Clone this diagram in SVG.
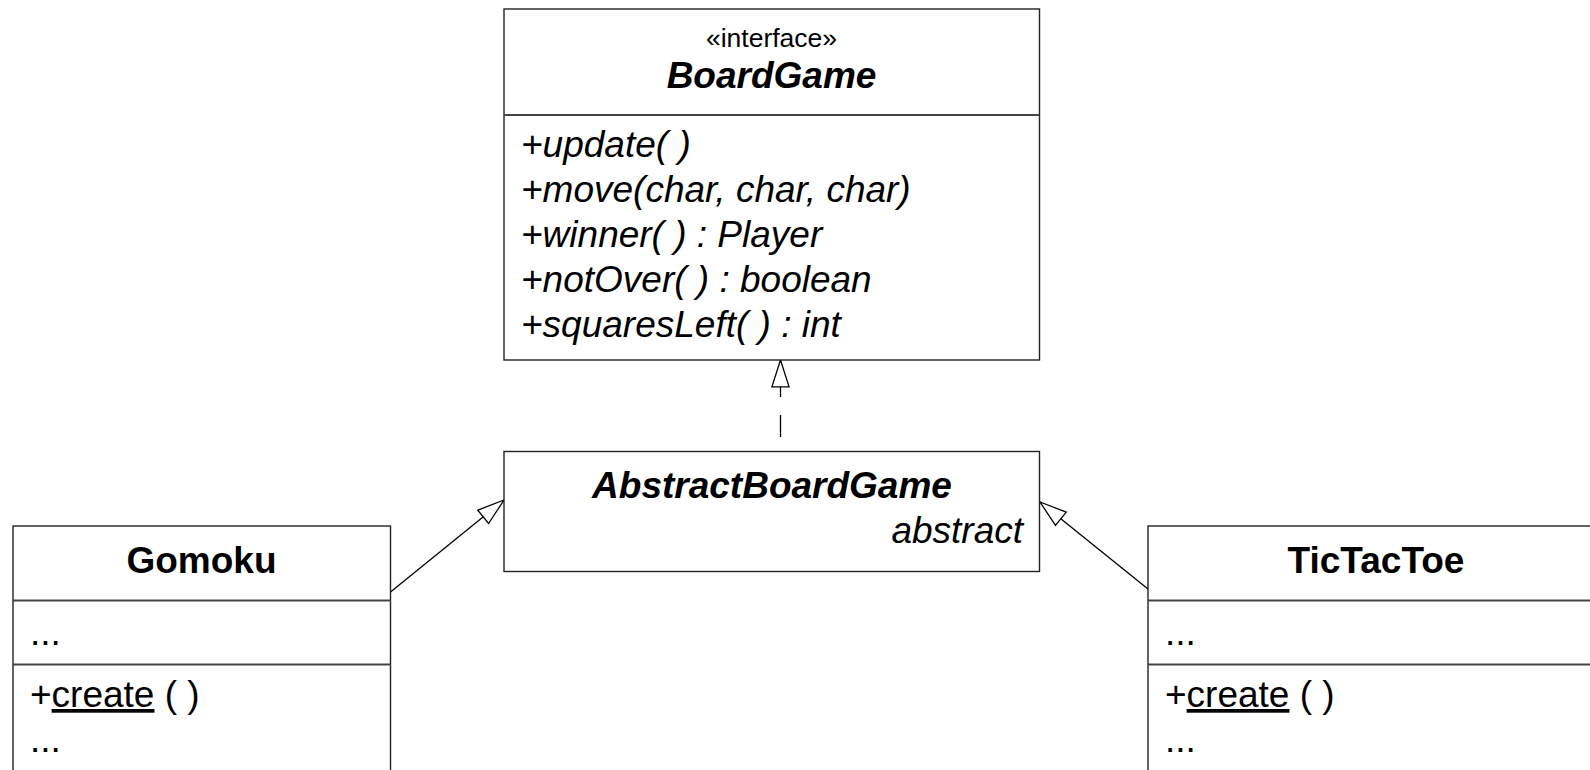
<svg xmlns="http://www.w3.org/2000/svg" width="1590" height="770" viewBox="0 0 1590 770">
<defs>
<style>
text{font-family:"Liberation Sans",Arial,Helvetica,sans-serif;fill:#000;font-size:37px}
.box{fill:#fff;stroke:#222;stroke-width:1.4}
.div{stroke:#444;stroke-width:1.8}
.b{font-weight:bold}
.i{font-style:italic}
.st{font-size:26.5px}
.m{text-anchor:middle}
.e{text-anchor:end}
.conn{fill:none;stroke:#000;stroke-width:1.3}
</style>
<marker id="tri" markerUnits="userSpaceOnUse" markerWidth="30" markerHeight="22" refX="26" refY="9" orient="auto" viewBox="0 0 28 18">
<path d="M1,1 L26,9 L1,17 Z" fill="#fff" stroke="#000" stroke-width="1.2"/>
</marker>
</defs>
<rect width="1590" height="770" fill="#fff"/>
<g id="connectors">
<path class="conn" d="M780.5,451.5 L780.5,360" stroke-dasharray="0,14.5,22,18,200" marker-end="url(#tri)"/>
<path class="conn" d="M390.5,592 L504,500" marker-end="url(#tri)"/>
<path class="conn" d="M1148,589 L1040,502" marker-end="url(#tri)"/>
</g>
<g id="BoardGame">
<rect class="box" x="504" y="9" width="535.5" height="351"/>
<line class="div" x1="504" y1="115" x2="1039.5" y2="115"/>
<text class="st m" x="771.5" y="47">«interface»</text>
<text class="b i m" x="771.5" y="88">BoardGame</text>
<text class="i" x="521" y="157">+update( )</text>
<text class="i" x="521" y="202">+move(char, char, char)</text>
<text class="i" x="521" y="247">+winner( ) : Player</text>
<text class="i" x="521" y="292">+notOver( ) : boolean</text>
<text class="i" x="521" y="337">+squaresLeft( ) : int</text>
</g>
<g id="AbstractBoardGame">
<rect class="box" x="504" y="451.5" width="535.5" height="120"/>
<text class="b i m" x="772" y="498">AbstractBoardGame</text>
<text class="i e" x="1023" y="543">abstract</text>
</g>
<g id="Gomoku">
<rect class="box" x="13" y="526" width="377.5" height="260"/>
<line class="div" x1="13" y1="600.5" x2="390.5" y2="600.5"/>
<line class="div" x1="13" y1="664.5" x2="390.5" y2="664.5"/>
<text class="b m" x="201.5" y="573">Gomoku</text>
<text x="30" y="645">...</text>
<text x="30" y="707">+<tspan text-decoration="underline">create</tspan> ( )</text>
<text x="30" y="752">...</text>
</g>
<g id="TicTacToe">
<rect class="box" x="1148" y="526" width="460" height="260"/>
<line class="div" x1="1148" y1="600.5" x2="1608" y2="600.5"/>
<line class="div" x1="1148" y1="664.5" x2="1608" y2="664.5"/>
<text class="b m" x="1376" y="573">TicTacToe</text>
<text x="1165" y="645">...</text>
<text x="1165" y="707">+<tspan text-decoration="underline">create</tspan> ( )</text>
<text x="1165" y="752">...</text>
</g>
</svg>
